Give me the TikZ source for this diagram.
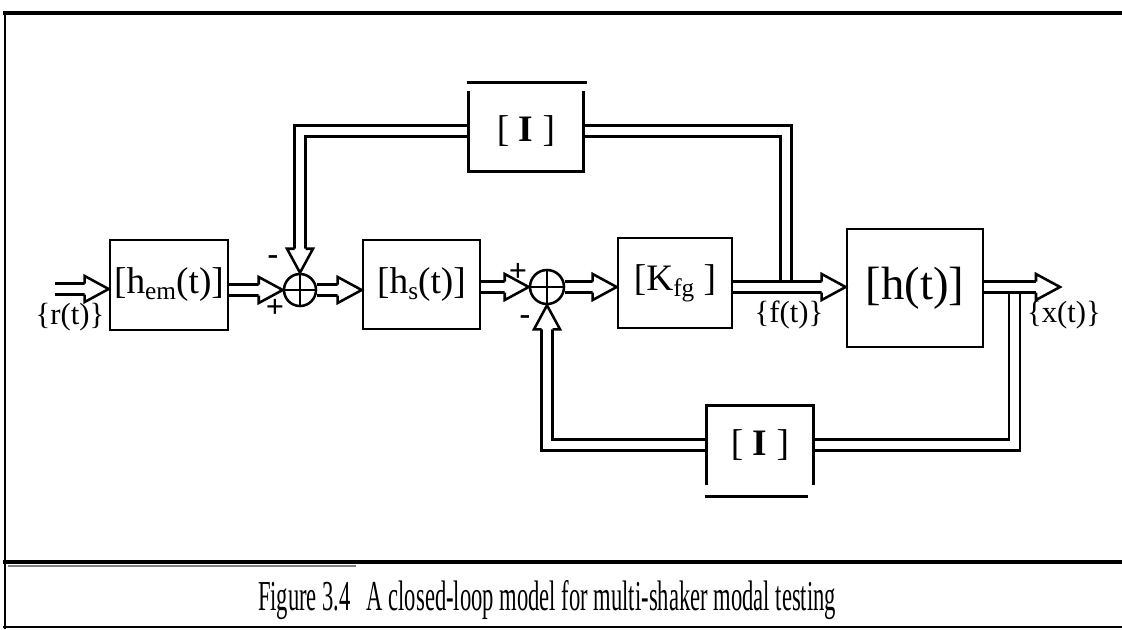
\documentclass[tikz,border=0pt]{standalone}
\usepackage{fontspec}
\setmainfont{Liberation Serif}
\usetikzlibrary{calc}
\pgfdeclarelayer{bg}
\pgfsetlayers{bg,main}
\newcommand\lsub[2][19]{\raisebox{-0.35ex}{\fontsize{#1}{#1}\selectfont #2}}
\tikzset{
  box/.style={draw, line width=2pt, inner sep=0pt},
  bigtxt/.style={font=\fontsize{28}{32}\selectfont},
  lbl/.style={font=\fontsize{23}{25}\selectfont, inner sep=0pt},
  sgn/.style={font=\fontsize{24}{24}\selectfont\bfseries, inner sep=0pt},
  dbl/.style={double=white, double distance=6.4pt, line width=1.9pt, line join=miter},
  sum/.style={circle, draw, line width=1.9pt, inner sep=0pt},
  frame/.style={line width=#1},
  headR/.pic={\draw[line width=1.9pt, fill=white, line join=miter]
     (-24,-5.5) -- (-24,-13) -- (0,0) -- (-24,13) -- (-24,5.5);}
}
\begin{document}
\begin{tikzpicture}[x=0.75pt,y=-0.75pt]
\useasboundingbox (0,0) rectangle (1122,629);
% frame
\draw[frame=3pt] (3,13) -- (1122,13);
\draw[frame=2pt] (5,11.5) -- (5,629);
\draw[frame=2.8pt] (3,562) -- (1122,562);
\draw[gray, frame=1.5pt] (8,566) -- (356,566);
\draw[frame=1.5pt] (3,627) -- (1122,627);
% blocks
\node[box, bigtxt, minimum width=88.5pt, minimum height=67.5pt] (hem) at (169,285) {[h\lsub{em}(t)]};
\node[box, bigtxt, minimum width=87.75pt, minimum height=66.75pt] (hs) at (421.5,284.5) {[h\lsub{s}(t)]};
\node[box, bigtxt, minimum width=85.5pt, minimum height=67.5pt] (Kfg) at (675,283) {[K\lsub{fg} ]};
\node[box, font=\fontsize{35}{38}\selectfont, minimum width=102pt, minimum height=88.5pt] (h) at (915,288) {[h(t)]};
\node[bigtxt, inner sep=0pt, minimum width=85.5pt, minimum height=60pt] (I1) at (526,131) {[ \textbf{I} ]};
\node[bigtxt, inner sep=0pt, minimum width=79.5pt, minimum height=59.25pt] (I2) at (760,445) {[ \textbf{I} ]};
\draw[line width=2pt] (I1.north west) -- (I1.south west) -- (I1.south east) -- (I1.north east);
\draw[line width=2pt] ($(I1.north west)+(-2,-8)$) -- ($(I1.north east)+(4,-8)$);
\draw[line width=2pt] (I2.south west) -- (I2.north west) -- (I2.north east) -- (I2.south east);
\draw[line width=2pt] ($(I2.south west)+(-2,11.5)$) -- ($(I2.south east)+(-5,11.5)$);
% summing junctions
\node[sum, minimum size=24pt] (s1) at (300,290) {};
\node[sum, minimum size=25.5pt] (s2) at (547,287) {};
\draw[line width=1.9pt] (s1.north) -- (s1.south) (s1.west) -- (s1.east);
\draw[line width=1.9pt] (s2.north) -- (s2.south) (s2.west) -- (s2.east);
% labels
\node[lbl] (lr) at (70,317) {\{r(t)\}};
\node[lbl] (lf) at (789,315) {\{f(t)\}};
\node[lbl] (lx) at (1064,315) {\{x(t)\}};
\node[sgn] (m1) at (273,260) {-};
\node[sgn] (p1) at (275,308) {+};
\node[sgn] (p2) at (518,272) {+};
\node[sgn] (m2) at (525,320) {-};
% caption
\node[anchor=base, inner sep=0pt] (cap) at (547,610)
  {\resizebox{433.5pt}{\height}{\fontsize{32}{34}\selectfont Figure 3.4\hspace{0.7em}A closed-loop model for multi-shaker modal testing}};
% connectors
\coordinate (in) at (55,289);
\coordinate (xout) at (1060,287);
\coordinate (fA) at (786,281.5);
\coordinate (xA) at (1014.5,292.5);
\begin{pgfonlayer}{bg}
  \draw[dbl] (fA) |- (I1.east);
  \draw[dbl, shorten >=18pt] (I1.west) -| (s1.north);
  \pic[rotate=-90] at (s1.north) {headR};
  \draw[dbl] (xA) |- (I2.east);
  \draw[dbl, shorten >=18pt] (I2.west) -| (s2.south);
  \pic[rotate=90] at (s2.south) {headR};
  \draw[dbl, shorten >=18pt] (in) -- (in -| hem.west);
  \pic at (in -| hem.west) {headR};
  \draw[dbl, shorten >=18pt] (s1.west -| hem.east) -- (s1.west);
  \pic at (s1.west) {headR};
  \draw[dbl, shorten >=18pt] (s1.east) -- (s1.east -| hs.west);
  \pic at (s1.east -| hs.west) {headR};
  \draw[dbl, shorten >=18pt] (s2.west -| hs.east) -- (s2.west);
  \pic at (s2.west) {headR};
  \draw[dbl, shorten >=18pt] (s2.east) -- (s2.east -| Kfg.west);
  \pic at (s2.east -| Kfg.west) {headR};
  \draw[dbl, shorten >=18pt] (s2.east -| Kfg.east) -- (s2.east -| h.west);
  \pic at (s2.east -| h.west) {headR};
  \draw[dbl, shorten >=18pt] (s2.east -| h.east) -- (xout);
  \pic at (xout) {headR};
\end{pgfonlayer}
\end{tikzpicture}
\end{document}
